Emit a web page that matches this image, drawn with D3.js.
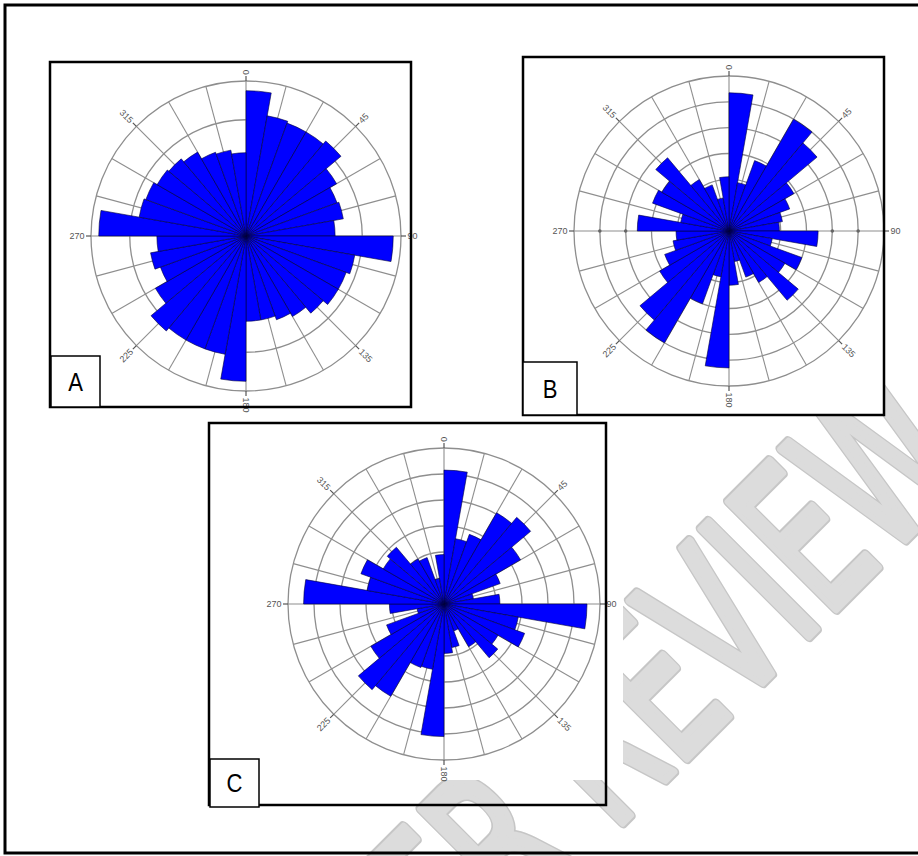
<!DOCTYPE html>
<html>
<head>
<meta charset="utf-8">
<script src="https://cdn.jsdelivr.net/npm/d3@7"></script>
<style>
  html, body { margin: 0; padding: 0; background: #fff; }
  svg { display: block; }
</style>
</head>
<body>
<div id="chart"></div>
<script>
// 10-degree direction bins, 0 = north, clockwise
const bins = d3.range(0, 360, 10);
const angleTicks = [0, 45, 90, 135, 180, 225, 270, 315];

// bin lengths (A: rings at 2,4,6,8; B/C: rings at 1..6)
const roseA = [7.5, 6.3, 6.2, 6.2, 6.4, 5.4, 5.0, 5.1, 4.6,
               7.6, 5.7, 5.5, 5.5, 5.2, 4.8, 4.6, 4.4, 4.4,
               7.5, 6.2, 6.2, 6.2, 6.4, 5.4, 4.7, 5.0, 4.6,
               7.6, 5.6, 5.5, 5.3, 5.2, 5.0, 4.6, 4.5, 4.3];
const roseB = [5.35, 1.9, 2.9, 5.0, 4.45, 2.9, 2.5, 2.1, 1.95,
               3.45, 1.7, 3.0, 2.5, 3.5, 2.3, 1.9, 1.2, 2.1,
               5.3, 1.8, 3.0, 5.0, 4.5, 3.1, 2.65, 2.2, 2.05,
               3.55, 1.9, 3.15, 3.0, 3.7, 2.3, 1.9, 1.3, 2.1];
const roseC = [5.15, 2.55, 2.85, 4.05, 4.35, 3.4, 2.3, 1.15, 2.15,
               5.5, 2.9, 3.3, 2.4, 2.7, 1.9, 1.1, 1.7, 1.9,
               5.1, 2.55, 2.6, 4.1, 4.3, 3.25, 2.35, 1.05, 2.1,
               5.4, 3.0, 3.4, 2.7, 2.85, 2.0, 1.9, 1.0, 1.9];
const panelLabels = ["A", "B", "C"];
const watermark = "PEER REVIEW";

const W = 918, H = 856;
const svg = d3.select("#chart").append("svg")
    .attr("width", W).attr("height", H)
    .attr("viewBox", `0 0 ${W} ${H}`);

svg.append("rect").attr("width", W).attr("height", H).attr("fill", "#fff");

// faint diagonal watermark behind everything: darker rim, lighter body
const wm = svg.append("g")
    .attr("transform", "translate(722.5,722.5) rotate(-45) scale(0.63,1)")
    .attr("font-family", "DejaVu Sans, sans-serif")
    .attr("font-size", 208)
    .attr("stroke-linejoin", "round");
wm.append("text").attr("x", -846)
    .attr("fill", "#c6c6c6").attr("stroke", "#c6c6c6").attr("stroke-width", 12)
    .text(watermark);
wm.append("text").attr("x", -846)
    .attr("fill", "#dcdcdc").attr("stroke", "#dcdcdc").attr("stroke-width", 8)
    .text(watermark);

// panel frames: [x, y, w, h]
const panels = [
  { box: [50, 62, 361, 345], lab: [51, 356, 49, 51], fill: "#fff" },
  { box: [523, 57, 361, 358], lab: [523, 362, 54, 53], fill: "#fff" },
  { box: [209, 423, 397, 382], lab: [210, 759, 49, 48], fill: "none" }
];

// white backing of the C picture (covers the watermark above y=780)
svg.append("rect").attr("x", 209).attr("y", 423).attr("width", 414).attr("height", 357).attr("fill", "#fff");

panels.forEach(p => {
  svg.append("rect")
      .attr("x", p.box[0]).attr("y", p.box[1])
      .attr("width", p.box[2]).attr("height", p.box[3])
      .attr("fill", p.fill);
});

function drawRose(cx, cy, R, maxVal, ringStep, values, ringDots) {
  const g = svg.append("g").attr("transform", `translate(${cx},${cy})`);
  const r = d3.scaleLinear().domain([0, maxVal]).range([0, R]);
  const a = d3.scaleLinear().domain([0, 360]).range([0, 2 * Math.PI]);
  const rings = d3.range(ringStep, maxVal + 1e-6, ringStep);
  const px = (deg, rad) => rad * Math.sin(a(deg));
  const py = (deg, rad) => -rad * Math.cos(a(deg));

  g.selectAll("line.spoke").data(d3.range(0, 360, 15)).join("line")
      .attr("x1", 0).attr("y1", 0)
      .attr("x2", d => px(d, R)).attr("y2", d => py(d, R))
      .attr("stroke", "#8e8e8e").attr("stroke-width", 1.1);

  g.selectAll("circle.ring").data(rings).join("circle")
      .attr("r", d => r(d))
      .attr("fill", "none").attr("stroke", "#8e8e8e").attr("stroke-width", 1.3);

  // small scale markers sitting on the E-W axis
  (ringDots || []).forEach(v => {
    [90, 270].forEach(t => {
      g.append("circle")
          .attr("cx", px(t, r(v))).attr("cy", py(t, r(v)))
          .attr("r", 1.8).attr("fill", "#666");
    });
  });

  const arc = d3.arc()
      .innerRadius(0)
      .outerRadius(d => r(d.v))
      .startAngle(d => a(d.dir))
      .endAngle(d => a(d.dir + 10));

  g.selectAll("path.bar").data(bins.map((dir, i) => ({ dir, v: values[i] }))).join("path")
      .attr("d", arc)
      .attr("fill", "#0000ff")
      .attr("stroke", "#00003a").attr("stroke-width", 0.6);

  // main direction ticks + labels
  angleTicks.forEach(t => {
    g.append("line")
        .attr("x1", px(t, R)).attr("y1", py(t, R))
        .attr("x2", px(t, R + 5)).attr("y2", py(t, R + 5))
        .attr("stroke", "#555").attr("stroke-width", 1.2);
    const lab = String(t);
    const rr = R + 6 + lab.length * 2.7;
    const rot = t <= 180 ? t - 90 : t - 270;
    g.append("text")
        .attr("transform", `translate(${px(t, rr)},${py(t, rr)}) rotate(${rot})`)
        .attr("text-anchor", "middle")
        .attr("dominant-baseline", "central")
        .attr("font-family", "Liberation Sans, Arial, sans-serif")
        .attr("font-size", 9)
        .attr("fill", "#555")
        .text(lab);
  });
}

drawRose(246, 236, 155, 8, 2, roseA);
drawRose(729, 231, 155, 6, 1, roseB, [4, 5]);
drawRose(444, 604, 156, 6, 1, roseC);

// panel borders and corner labels on top
panels.forEach((p, i) => {
  svg.append("rect")
      .attr("x", p.box[0]).attr("y", p.box[1])
      .attr("width", p.box[2]).attr("height", p.box[3])
      .attr("fill", "none").attr("stroke", "#000").attr("stroke-width", 2.5);
  svg.append("rect")
      .attr("x", p.lab[0]).attr("y", p.lab[1])
      .attr("width", p.lab[2]).attr("height", p.lab[3])
      .attr("fill", "#fff").attr("stroke", "#000").attr("stroke-width", 1.5);
  svg.append("text")
      .attr("transform", `translate(${p.lab[0] + p.lab[2] / 2},${p.lab[1] + p.lab[3] / 2 + 9}) scale(0.85,1)`)
      .attr("text-anchor", "middle")
      .attr("font-family", "Liberation Sans, Arial, sans-serif")
      .attr("font-size", 26)
      .attr("fill", "#000")
      .text(panelLabels[i]);
});

// outer frame
svg.append("rect")
    .attr("x", 5).attr("y", 5).attr("width", W + 10).attr("height", 848)
    .attr("fill", "none").attr("stroke", "#000").attr("stroke-width", 3);
</script>
</body>
</html>
